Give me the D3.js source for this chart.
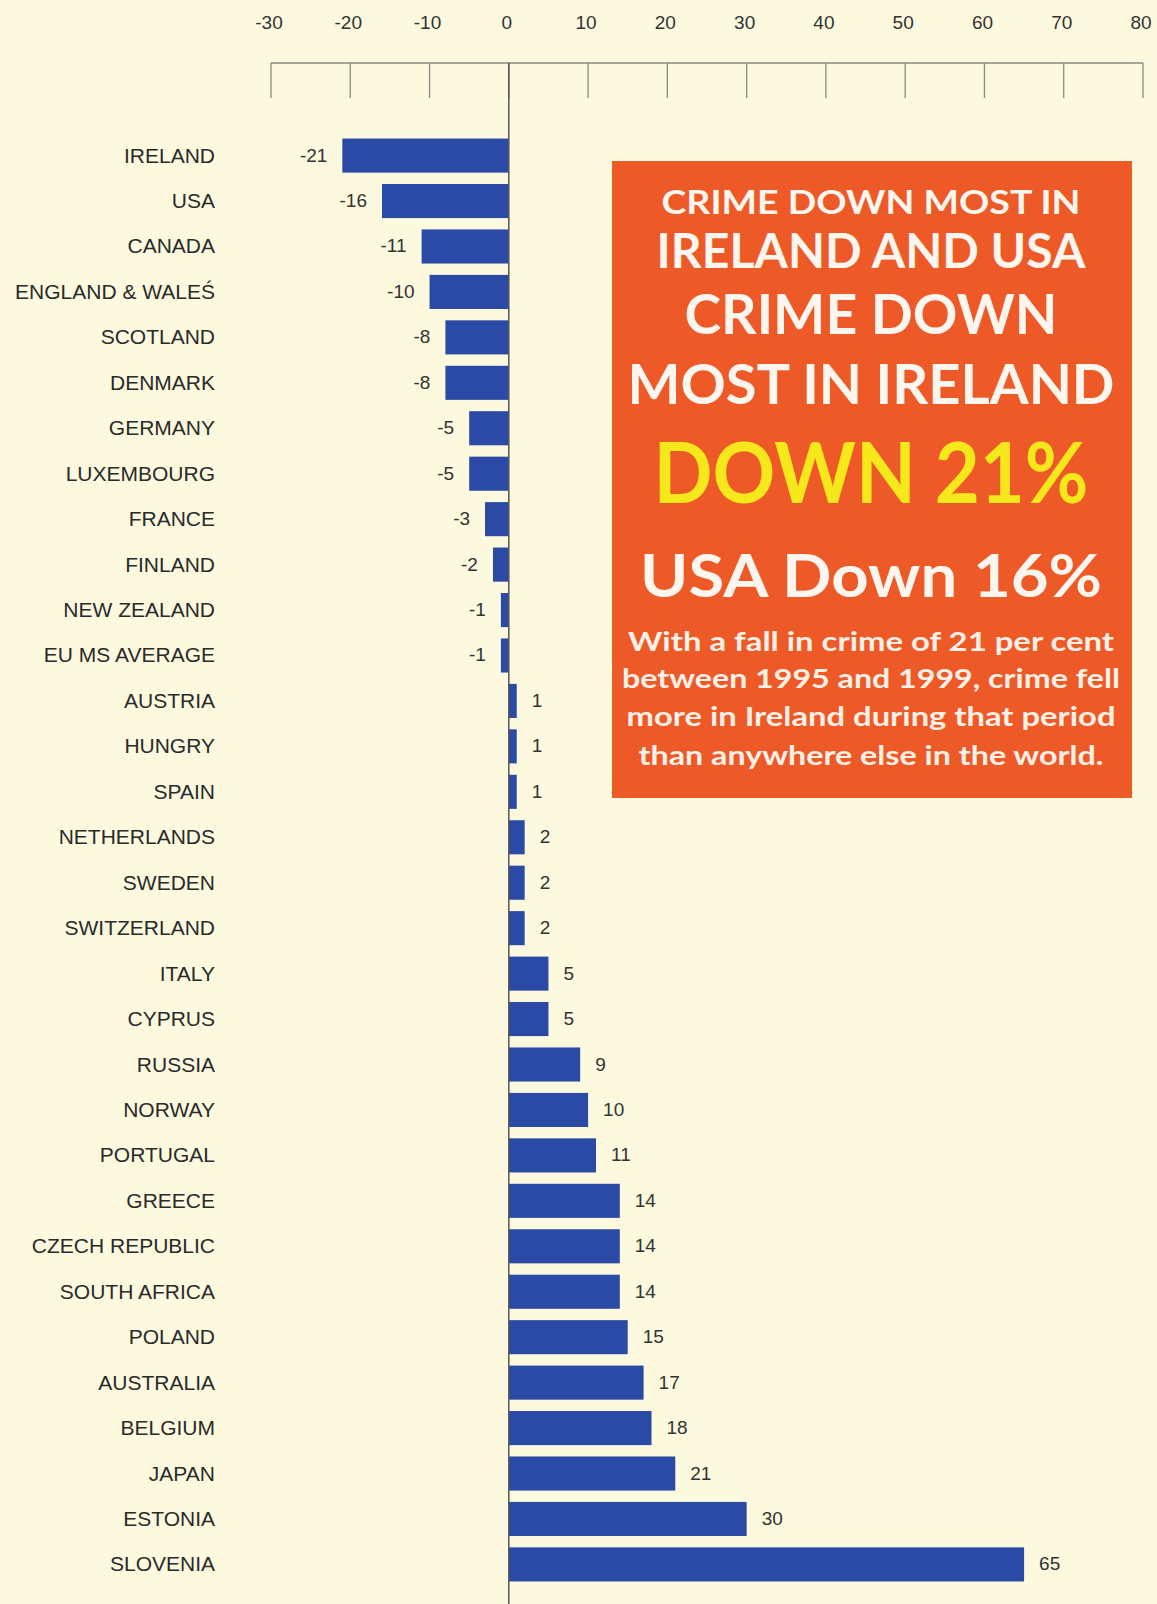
<!DOCTYPE html>
<html>
<head>
<meta charset="utf-8">
<script src="https://cdn.jsdelivr.net/npm/d3@7"></script>
<style>
    body { margin: 0; background: #fcf9df; }
    svg { display: block; }
</style>
</head>
<body>
<div id="chart"></div>
<script>
/*
    Data
*/
const countries = ["IRELAND", "USA", "CANADA", "ENGLAND & WALEŚ", "SCOTLAND", "DENMARK", "GERMANY",
    "LUXEMBOURG", "FRANCE", "FINLAND", "NEW ZEALAND", "EU MS AVERAGE", "AUSTRIA", "HUNGRY", "SPAIN",
    "NETHERLANDS", "SWEDEN", "SWITZERLAND", "ITALY", "CYPRUS", "RUSSIA", "NORWAY", "PORTUGAL", "GREECE",
    "CZECH REPUBLIC", "SOUTH AFRICA", "POLAND", "AUSTRALIA", "BELGIUM", "JAPAN", "ESTONIA", "SLOVENIA"]
const changes = [-21, -16, -11, -10, -8, -8, -5, -5, -3, -2, -1, -1, 1, 1, 1, 2, 2, 2, 5, 5, 9, 10, 11,
    14, 14, 14, 15, 17, 18, 21, 30, 65]
const tickValues = [-30, -20, -10, 0, 10, 20, 30, 40, 50, 60, 70, 80]

// Box texts: [text, font size, baseline, width]
const headlines = [
    ["CRIME DOWN MOST IN", 33, 214, 419],
    ["IRELAND AND USA", 47, 268, 429],
    ["CRIME DOWN", 56, 334, 373],
    ["MOST IN IRELAND", 56, 404, 487],
    ["DOWN 21%", 84, 503, 435],
    ["USA Down 16%", 59, 597, 462]
]
const blurb = [
    ["With a fall in crime of 21 per cent", 651, 486],
    ["between 1995 and 1999, crime fell", 688, 498],
    ["more in Ireland during that period", 726, 489],
    ["than anywhere else in the world.", 765, 465]
]

function main() {
    const width = 1157
    const height = 1604
    const barColor = "#2b4aa6"

    const svg = d3.select("#chart").append("svg")
        .attr("width", width)
        .attr("height", height)

    const x = d3.scaleLinear().domain([-30, 80]).range([271, 1143])
    const y = d3.scaleBand().domain(countries).range([134, 1586]).paddingInner(0.25).paddingOuter(0.1)

    // Axis on top
    const axis = svg.append("g")
    axis.append("line")
        .attr("x1", x(-30)).attr("x2", x(80))
        .attr("y1", 63).attr("y2", 63)
        .attr("stroke", "#8a8a80").attr("stroke-width", 1.3)
    axis.selectAll(".tick")
        .data(tickValues)
        .enter()
        .append("line")
        .attr("x1", d => x(d)).attr("x2", d => x(d))
        .attr("y1", 63).attr("y2", 98)
        .attr("stroke", "#8a8a80").attr("stroke-width", 1.3)
    axis.selectAll(".tick-label")
        .data(tickValues)
        .enter()
        .append("text")
        .attr("x", d => x(d) - 2)
        .attr("y", 29)
        .attr("text-anchor", "middle")
        .style("font-family", "Liberation Sans, Arial, sans-serif")
        .style("font-size", "19px")
        .style("fill", "#333")
        .text(d => d)

    // Bars
    svg.selectAll(".bar")
        .data(changes)
        .enter()
        .append("rect")
        .attr("x", d => x(Math.min(0, d)))
        .attr("y", (d, i) => y(countries[i]))
        .attr("width", d => Math.abs(x(d) - x(0)))
        .attr("height", y.bandwidth())
        .attr("fill", barColor)

    // Zero line
    svg.append("line")
        .attr("x1", x(0)).attr("x2", x(0))
        .attr("y1", 63).attr("y2", height)
        .attr("stroke", "#555").attr("stroke-width", 1.5)

    // Country labels
    svg.selectAll(".country")
        .data(countries)
        .enter()
        .append("text")
        .attr("x", 215)
        .attr("y", d => y(d) + y.bandwidth() / 2 + 7)
        .attr("text-anchor", "end")
        .style("font-family", "Liberation Sans, Arial, sans-serif")
        .style("font-size", "21px")
        .style("fill", "#2a2a2a")
        .text(d => d)

    // Value labels
    svg.selectAll(".value")
        .data(changes)
        .enter()
        .append("text")
        .attr("x", d => d < 0 ? x(d) - 15 : x(d) + 15)
        .attr("y", (d, i) => y(countries[i]) + y.bandwidth() / 2 + 6)
        .attr("text-anchor", d => d < 0 ? "end" : "start")
        .style("font-family", "Liberation Sans, Arial, sans-serif")
        .style("font-size", "19px")
        .style("fill", "#333")
        .text(d => d)

    // Orange call-out box
    const box = svg.append("g")
    box.append("rect")
        .attr("x", 612).attr("y", 161)
        .attr("width", 520).attr("height", 637)
        .attr("fill", "#ee5a27")
    const cx = 871
    box.selectAll(".headline")
        .data(headlines)
        .enter()
        .append("text")
        .attr("x", cx)
        .attr("y", d => d[2])
        .attr("text-anchor", "middle")
        .attr("textLength", d => d[3])
        .attr("lengthAdjust", "spacingAndGlyphs")
        .style("font-family", "Lato, sans-serif")
        .style("font-weight", "700")
        .style("font-size", d => d[1] + "px")
        .style("fill", d => d[0].startsWith("DOWN") ? "#f7e81b" : "#fdf6ee")
        .text(d => d[0])
    box.selectAll(".blurb")
        .data(blurb)
        .enter()
        .append("text")
        .attr("x", cx)
        .attr("y", d => d[1])
        .attr("text-anchor", "middle")
        .attr("textLength", d => d[2])
        .attr("lengthAdjust", "spacingAndGlyphs")
        .style("font-family", "Lato, sans-serif")
        .style("font-weight", "700")
        .style("font-size", "27px")
        .style("fill", "#fdf0e6")
        .text(d => d[0])
}

main()
</script>
</body>
</html>
